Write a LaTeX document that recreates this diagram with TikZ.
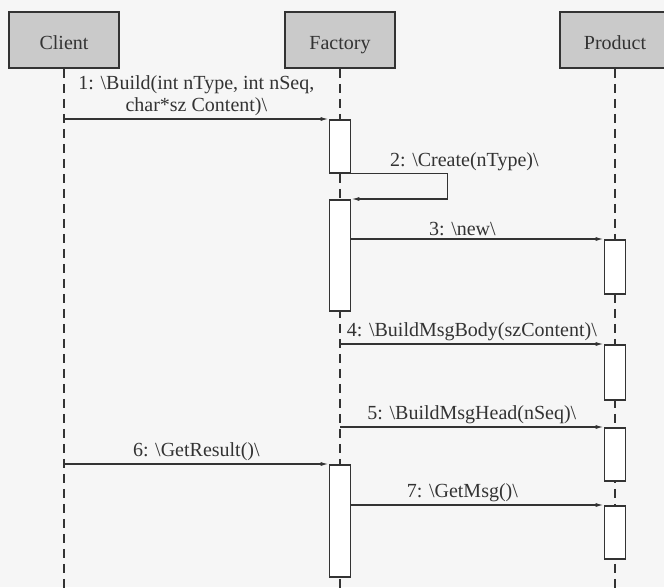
\documentclass[tikz,border=0pt]{standalone}
\usepackage{fontspec}
\setmainfont{Liberation Serif}
\usepackage{xcolor}
\usepackage{tikz}
\usetikzlibrary{arrows.meta,positioning,calc}
\definecolor{ink}{HTML}{333333}
\definecolor{headfill}{HTML}{CACACA}
\definecolor{paper}{HTML}{F6F6F6}

\begin{document}
\begin{tikzpicture}[x=1pt, y=-1pt,
    head/.style={rectangle, draw=ink, fill=headfill, line width=1.8pt,
                 minimum width=110pt, minimum height=56pt, text=ink,
                 text height=22pt, text depth=4pt,
                 font=\fontsize{20}{23}\selectfont},
    act/.style={rectangle, draw=ink, fill=white, line width=1.6pt,
                minimum width=21pt, inner sep=0pt, anchor=north},
    life/.style={draw=ink, line width=1.5pt, dash pattern=on 9pt off 6pt},
    msg/.style={draw=ink, line width=1.3pt, -{Latex[length=8pt,width=4pt]}},
    lbl/.style={font=\fontsize{20}{22}\selectfont, text=ink, inner sep=1.5pt,
                align=center},
]
\fill[paper] (0,0) rectangle (664,587);
\useasboundingbox (0,0) rectangle (664,587);

\node[head] (client)  at (64,40)  {Client};
\node[head] (factory) at (340,40) {Factory};
\node[head] (product) at (615,40) {Product};

\draw[life] (client.south)  -- ++(0,519);
\draw[life] (factory.south) -- ++(0,519);
\draw[life] (product.south) -- ++(0,519);

% activations
\node[act, minimum height=53pt]  (a1) at (340,119) {};
\node[act, minimum height=111pt] (a2) at (340,199) {};
\node[act, minimum height=112pt] (a3) at (340,464) {};
\node[act, minimum height=54pt]  (p1) at (615,239) {};
\node[act, minimum height=55pt]  (p2) at (615,344) {};
\node[act, minimum height=53pt]  (p3) at (615,427) {};
\node[act, minimum height=53pt]  (p4) at (615,505) {};

% messages
\draw[msg] (client.south |- a1.north) -- (a1.north west)
    node[lbl, midway, above=1pt] {1: \textbackslash Build(int nType, int nSeq,\\char*sz Content)\textbackslash};
\draw[msg] (a1.south east) -- ++(96,0) |- (a2.north east);
\node[lbl, above=1pt] (m2) at ($(a1.south east)+(113,0)$) {2: \textbackslash Create(nType)\textbackslash};
\draw[msg] (a2.east |- p1.north) -- (p1.north west)
    node[lbl, pos=0.44, above=1pt] {3: \textbackslash new\textbackslash};
\draw[msg] (factory.south |- p2.north) -- (p2.north west)
    node[lbl, midway, above=1pt] {4: \textbackslash BuildMsgBody(szContent)\textbackslash};
\draw[msg] (factory.south |- p3.north) -- (p3.north west)
    node[lbl, midway, above=1pt] {5: \textbackslash BuildMsgHead(nSeq)\textbackslash};
\draw[msg] (client.south |- a3.north) -- (a3.north west)
    node[lbl, midway, above=1pt] {6: \textbackslash GetResult()\textbackslash};
\draw[msg] (a3.east |- p4.north) -- (p4.north west)
    node[lbl, pos=0.44, above=1pt] {7: \textbackslash GetMsg()\textbackslash};
\end{tikzpicture}
\end{document}
